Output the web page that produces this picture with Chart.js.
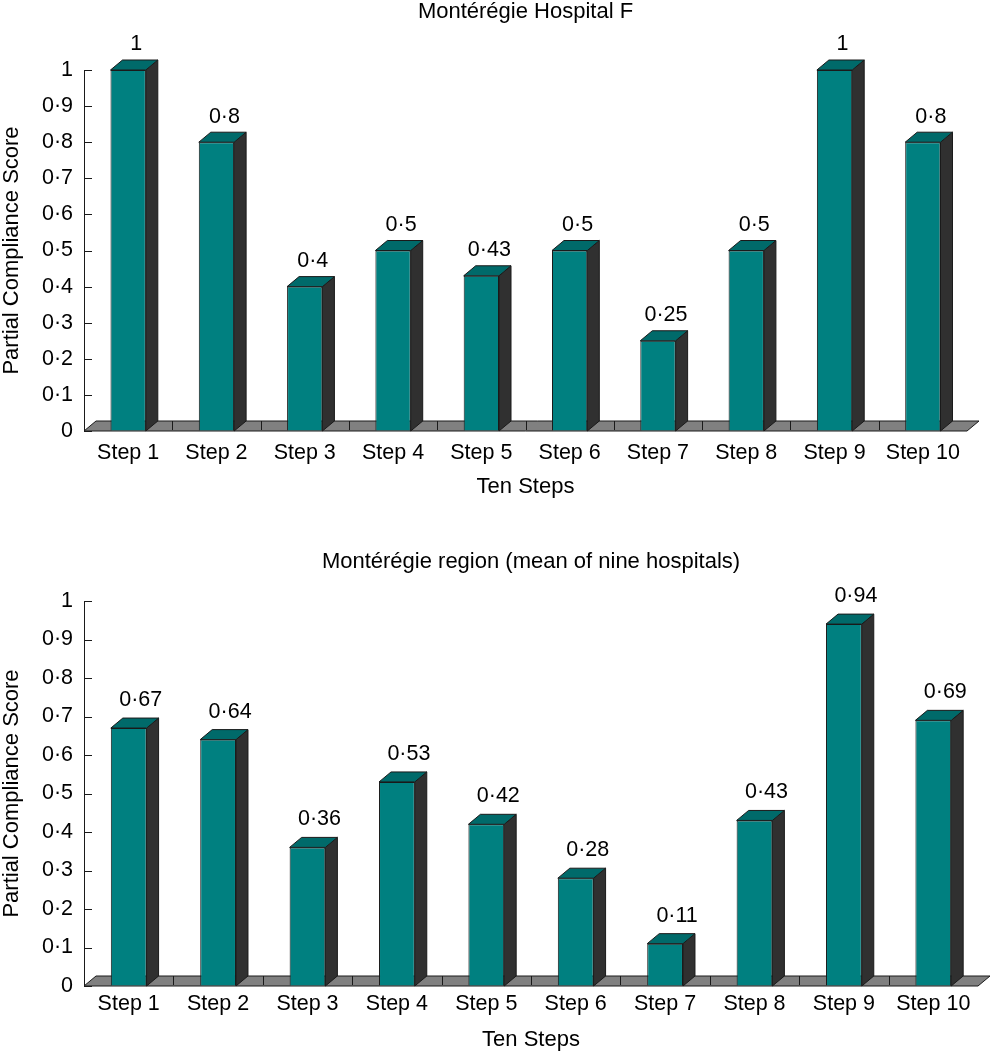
<!DOCTYPE html>
<html>
<head>
<meta charset="utf-8">
<title>Montérégie partial compliance</title>
<script src="https://cdn.jsdelivr.net/npm/chart.js@4.4.1/dist/chart.umd.min.js"></script>
<style>
    body { margin: 0; background: #fff; }
    canvas { display: block; }
</style>
</head>
<body>
<canvas id="hospitalChart" width="990" height="510"></canvas>
<canvas id="regionChart" width="990" height="543"></canvas>
<script>
const steps = ['Step 1', 'Step 2', 'Step 3', 'Step 4', 'Step 5', 'Step 6', 'Step 7', 'Step 8', 'Step 9', 'Step 10'];
const hospitalF = [1, 0.8, 0.4, 0.5, 0.43, 0.5, 0.25, 0.5, 1, 0.8];
const regionMean = [0.67, 0.64, 0.36, 0.53, 0.42, 0.28, 0.11, 0.43, 0.94, 0.69];
const yTicks = [0, 0.1, 0.2, 0.3, 0.4, 0.5, 0.6, 0.7, 0.8, 0.9, 1];

const FONT = "'Liberation Sans', Arial, sans-serif";
const DEPTH_X = 12;
const DEPTH_Y = 10;

function fmt(v) {
    const r = Math.round(v * 100) / 100;
    return String(r).replace('.', '·');
}

function poly(ctx, pts, fill) {
    ctx.beginPath();
    ctx.moveTo(pts[0][0], pts[0][1]);
    for (let i = 1; i < pts.length; i++) ctx.lineTo(pts[i][0], pts[i][1]);
    ctx.closePath();
    ctx.fillStyle = fill;
    ctx.fill();
    ctx.stroke();
}

// floor, inward ticks, bar sides/tops and value labels
const box3d = {
    id: 'box3d',
    beforeDatasetsDraw(chart) {
        const ctx = chart.ctx;
        const area = chart.chartArea;
        const x = chart.scales.x;
        const y = chart.scales.y;
        const y0 = y.getPixelForValue(0);
        ctx.save();
        ctx.strokeStyle = '#1a1a1a';
        ctx.lineWidth = 1;
        poly(ctx, [[area.left, y0], [area.right, y0], [area.right + DEPTH_X, y0 - DEPTH_Y], [area.left + DEPTH_X, y0 - DEPTH_Y]], '#808080');
        // divisions on the floor
        const n = chart.data.labels.length;
        const w = (area.right - area.left) / n;
        ctx.beginPath();
        for (let i = 1; i < n; i++) {
            const px = Math.round(area.left + i * w) + 0.5;
            ctx.moveTo(px, y0 - DEPTH_Y);
            ctx.lineTo(px, y0 - 1);
        }
        ctx.stroke();
        // inward y ticks
        ctx.beginPath();
        yTicks.forEach(function(t) {
            const py = Math.round(y.getPixelForValue(t)) + 0.5;
            ctx.moveTo(area.left, py);
            ctx.lineTo(area.left + 8, py);
        });
        ctx.stroke();
        ctx.restore();
    },
    afterDatasetsDraw(chart, args, opts) {
        const ctx = chart.ctx;
        const y0 = chart.scales.y.getPixelForValue(0);
        const meta = chart.getDatasetMeta(0);
        const values = chart.data.datasets[0].data;
        ctx.save();
        ctx.strokeStyle = '#1a1a1a';
        ctx.lineWidth = 1;
        meta.data.forEach(function(bar, i) {
            const p = bar.getProps(['x', 'y', 'width'], true);
            const l = p.x - p.width / 2;
            const r = p.x + p.width / 2;
            const top = p.y;
            poly(ctx, [[r, top], [r + DEPTH_X, top - DEPTH_Y], [r + DEPTH_X, y0 - DEPTH_Y], [r, y0]], '#303030');
            poly(ctx, [[l, top], [l + DEPTH_X, top - DEPTH_Y], [r + DEPTH_X, top - DEPTH_Y], [r, top]], '#006a6a');
            ctx.fillStyle = '#000';
            ctx.font = '21.5px ' + FONT;
            ctx.textAlign = 'center';
            ctx.textBaseline = 'middle';
            ctx.fillText(fmt(values[i]), p.x + opts.labelDx, top - opts.labelDy);
        });
        ctx.restore();
    }
};

function makeChart(canvasEl, title, values, cfg) {
    const ctx = canvasEl.getContext('2d');
    return new Chart(ctx, {
        type: 'bar',
        data: {
            labels: steps,
            datasets: [{
                data: values,
                backgroundColor: '#008080',
                borderColor: '#1a1a1a',
                borderWidth: 1,
                barPercentage: 0.4,
                categoryPercentage: 1
            }]
        },
        options: {
            responsive: false,
            animation: false,
            devicePixelRatio: 1,
            layout: { padding: { left: 0, right: cfg.padRight, top: 0, bottom: 0 } },
            plugins: {
                legend: { display: false },
                tooltip: { enabled: false },
                title: {
                    display: true,
                    text: title,
                    fullSize: false,
                    color: '#000',
                    font: { family: FONT, size: 22, weight: 'normal', lineHeight: 1 },
                    padding: { top: cfg.titleTop, bottom: cfg.titleBottom }
                },
                box3d: { labelDx: cfg.labelDx, labelDy: cfg.labelDy }
            },
            scales: {
                x: {
                    grid: { display: false, drawTicks: false },
                    border: { display: false },
                    ticks: { color: '#000', font: { family: FONT, size: 21.5 }, padding: cfg.xTickPad },
                    title: {
                        display: true,
                        text: 'Ten Steps',
                        color: '#000',
                        font: { family: FONT, size: 22, lineHeight: 1 },
                        padding: { top: 0, bottom: cfg.xTitleBottom }
                    },
                    afterFit: function(scale) { scale.height = cfg.xHeight; }
                },
                y: {
                    min: 0,
                    max: 1,
                    afterBuildTicks: function(scale) {
                        scale.ticks = yTicks.map(function(v) { return { value: v }; });
                    },
                    grid: { drawOnChartArea: false, drawTicks: false },
                    border: { display: true, color: '#1a1a1a', width: 1 },
                    ticks: {
                        color: '#000',
                        font: { family: FONT, size: 21.5 },
                        padding: 11,
                        callback: function(v) { return fmt(v); }
                    },
                    title: {
                        display: true,
                        text: 'Partial Compliance Score',
                        color: '#000',
                        font: { family: FONT, size: 22, lineHeight: 1 },
                        padding: { top: 1, bottom: 0 }
                    },
                    afterFit: function(scale) { scale.width = 84; }
                }
            }
        },
        plugins: [box3d]
    });
}

document.addEventListener('DOMContentLoaded', function() {
    makeChart(document.getElementById('hospitalChart'), 'Montérégie Hospital F', hospitalF, {
        padRight: 23, titleTop: 1, titleBottom: 47, xHeight: 79,
        xTickPad: 9, xTitleBottom: 12, labelDx: 8, labelDy: 25.5
    });
    makeChart(document.getElementById('regionChart'), 'Montérégie region (mean of nine hospitals)', regionMean, {
        padRight: 12, titleTop: 40.5, titleBottom: 28.5, xHeight: 67,
        xTickPad: 5, xTitleBottom: 2, labelDx: 12, labelDy: 28
    });
});
</script>
</body>
</html>
